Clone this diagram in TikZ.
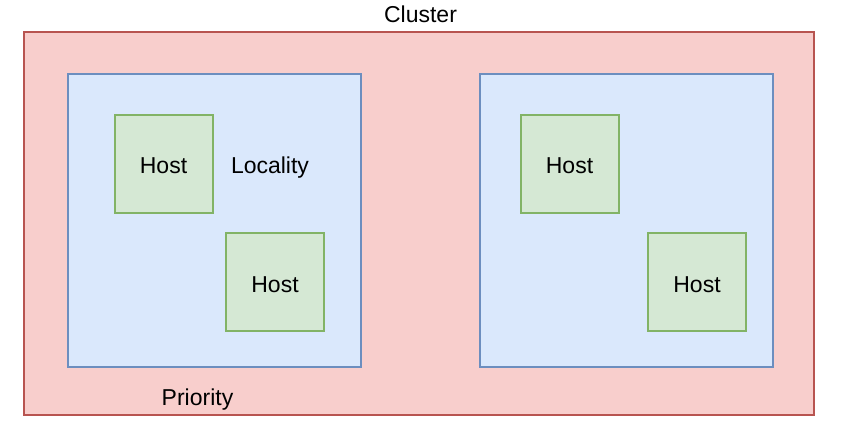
\documentclass[tikz,border=0pt]{standalone}
\usepackage{fontspec}
\setmainfont{Liberation Sans}
\definecolor{redfill}{HTML}{F8CECC}
\definecolor{redline}{HTML}{B85450}
\definecolor{bluefill}{HTML}{DAE8FC}
\definecolor{blueline}{HTML}{6C8EBF}
\definecolor{greenfill}{HTML}{D5E8D4}
\definecolor{greenline}{HTML}{82B366}
\tikzset{
  lbl/.style={font=\fontsize{23}{27}\selectfont, text=black, inner sep=0pt, anchor=base},
  clusterbox/.style={draw=redline, fill=redfill, line width=1.5pt},
  localitybox/.style={draw=blueline, fill=bluefill, line width=1.5pt},
  hostbox/.style={draw=greenline, fill=greenfill, line width=1.5pt, minimum width=98pt, minimum height=98pt, inner sep=0pt},
}
\begin{document}
\begin{tikzpicture}[x=1pt,y=-1pt]
\useasboundingbox (0,0) rectangle (866,438);
\fill[white] (0,0) rectangle (866,438);
\draw[clusterbox] (24,32) rectangle (814,415);
\draw[localitybox] (68,74) rectangle (361,367);
\draw[localitybox] (480,74) rectangle (773,367);
\node[hostbox] (h1) at (164,164) {};
\node[hostbox] (h2) at (275,282) {};
\node[hostbox] (h3) at (570,164) {};
\node[hostbox] (h4) at (697,282) {};
\node[lbl] (h1t) at (163.5,174) {Host};
\node[lbl] (h2t) at (275,292) {Host};
\node[lbl] (h3t) at (569.5,174) {Host};
\node[lbl] (h4t) at (697,292) {Host};
\node[lbl] (cluster) at (420.5,23) {Cluster};
\node[lbl] (locality) at (270,174) {Locality};
\node[lbl] (priority) at (197.5,405.5) {Priority};
\end{tikzpicture}
\end{document}
